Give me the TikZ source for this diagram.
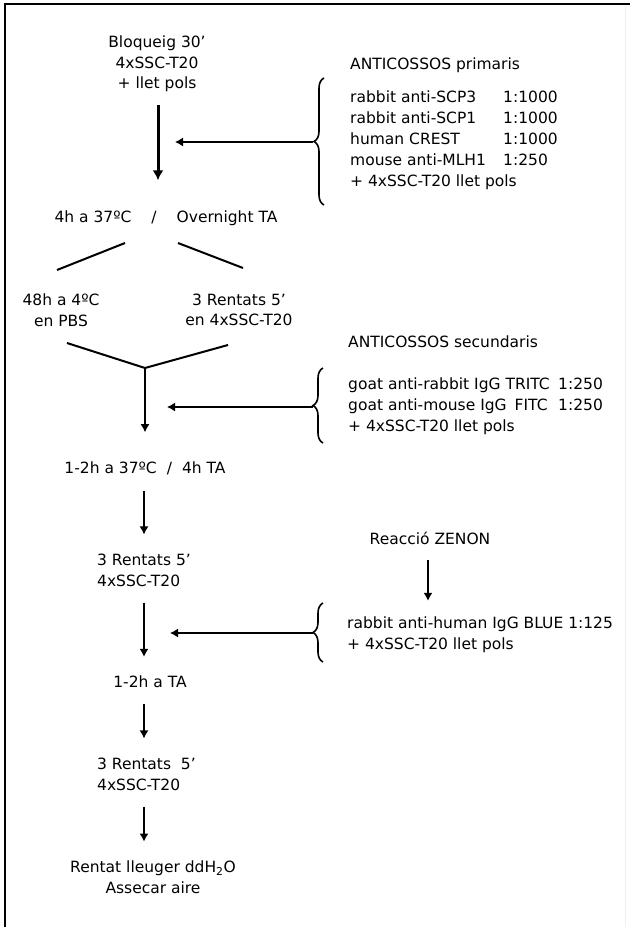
\documentclass[tikz,border=0pt]{standalone}
\usepackage{fontspec}
\setmainfont{DejaVu Sans}
\usetikzlibrary{arrows.meta}
\usetikzlibrary{decorations.pathreplacing}

\tikzset{
    pas/.style={font=\fontsize{15.5}{20.5}\selectfont, inner sep=0pt, align=center},
    llista/.style={font=\fontsize{15.5}{21}\selectfont, inner sep=0pt, anchor=west, align=left},
    fletxa/.style={-{Latex[length=8pt,width=9pt]}, line width=1.3pt},
    flux/.style={fletxa, shorten <=16pt, shorten >=19pt},
    branca/.style={line width=2pt},
    clau/.style={decorate, decoration={brace,amplitude=10pt}, line width=1.6pt},
}

\begin{document}
\begin{tikzpicture}[x=1pt,y=-1pt]
            \useasboundingbox (0,0) rectangle (630,927);
            \draw[line width=2pt] (5,927) -- (5,4) -- (630,4);
            \draw[black!6] (625,5) -- (625,927);

            \coordinate (col1) at (158,0);
            \coordinate (col) at (144,0);

            \node[pas] (bloq) at (157,64) {Bloqueig 30’\\4xSSC-T20\\+ llet pols};
            \node[pas] (inc1) at (166,218) {4h a 37ºC\hspace{20pt}/\hspace{20pt}Overnight TA};
            \node[pas] (pbs) at (61,310) {48h a 4ºC\\en PBS};
            \node[pas] (rent1) at (239,310) {3 Rentats 5’\\en 4xSSC-T20};
            \node[pas] (inc2) at (145,468) {1-2h a 37ºC\hspace{10pt}/\hspace{10pt}4h TA};
            \node[llista] (rent2) at (97,570) {3 Rentats 5’\\4xSSC-T20};
            \node[pas] (inc3) at (150,682) {1-2h a TA};
            \node[llista] (rent3) at (97,774) {3 Rentats\ \ 5’\\4xSSC-T20};
            \node[pas] (final) at (153,877) {Rentat lleuger ddH\textsubscript{2}O\\Assecar aire};

            \node[llista] (tprim) at (350,65) {ANTICOSSOS primaris};
            \node[llista] (prim) at (350,140) {\begin{tabular}{@{}p{153pt}@{}l@{}}
                rabbit anti-SCP3 & 1:1000\\
                rabbit anti-SCP1 & 1:1000\\
                human CREST & 1:1000\\
                mouse anti-MLH1 & 1:250\\
                \multicolumn{2}{@{}l@{}}{+ 4xSSC-T20 llet pols}
            \end{tabular}};
            \node[llista] (tsec) at (348,342) {ANTICOSSOS secundaris};
            \node[llista] (sec) at (348,406) {\begin{tabular}{@{}p{210pt}@{}l@{}}
                goat anti-rabbit IgG TRITC & 1:250\\
                goat anti-mouse IgG\hspace{8pt}FITC & 1:250\\
                \multicolumn{2}{@{}l@{}}{+ 4xSSC-T20 llet pols}
            \end{tabular}};
            \node[pas] (zenon) at (430,538) {Reacció ZENON};
            \node[llista] (blue) at (347,635) {rabbit anti-human IgG BLUE 1:125\\+ 4xSSC-T20 llet pols};

            \draw[clau] (324,205) -- (324,78);
            \draw[clau] (323,443) -- (323,368);
            \draw[clau] (323,662) -- (323,603);
            \coordinate (punta1) at (313,142);
            \coordinate (punta2) at (313,407);
            \coordinate (punta3) at (313,633);

            \draw[-{Latex[length=10pt,width=11pt]}, line width=3pt, shorten <=13pt, shorten >=30pt] (bloq.south -| col1) -- (inc1.north -| col1);
            \draw[fletxa, shorten >=17pt] (punta1) -- (punta1 -| col1);

            \coordinate (splitL) at (125,243);
            \coordinate (splitR) at (178,243);
            \coordinate (endL) at (57,270);
            \coordinate (endR) at (243,268);
            \coordinate (joinL) at (67,343);
            \coordinate (joinR) at (228,345);
            \coordinate (jn) at (145,368);
            \draw[branca] (splitL) -- (endL);
            \draw[branca] (splitR) -- (endR);
            \draw[branca] (joinL) -- (jn) -- (joinR);

            \draw[fletxa, shorten >=29pt] (jn) -- (jn |- inc2.north);
            \draw[fletxa, shorten >=23pt] (punta2) -- (punta2 -| col);

            \draw[flux] (inc2.south -| col) -- (rent2.north -| col);
            \draw[flux] (rent2.south -| col) -- (inc3.north -| col);
            \draw[flux] (inc3.south -| col) -- (rent3.north -| col);
            \draw[flux] (rent3.south -| col) -- (final.north -| col);
            \draw[fletxa, shorten >=26pt] (punta3) -- (punta3 -| col);

            \draw[fletxa, shorten <=15pt, shorten >=16pt] (zenon.south -| 428,0) -- (blue.north -| 428,0);
\end{tikzpicture}
\end{document}
